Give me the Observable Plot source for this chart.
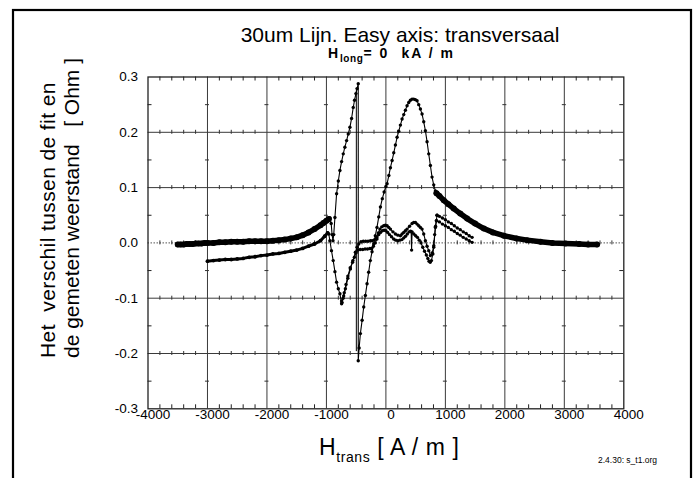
<!DOCTYPE html>
<html><head><meta charset="utf-8">
<script src="https://cdn.jsdelivr.net/npm/d3@7"></script>
<script src="https://cdn.jsdelivr.net/npm/@observablehq/plot@0.6"></script>
<style>body{margin:0;background:#fff}svg{display:block}</style>
</head><body><div id="chart"></div>
<script>
// ---- tick labels ----
const xTicks = [-4000,-3000,-2000,-1000,0,1000,2000,3000,4000];
const xTickLabels = ["-4000","-3000","-2000","-1000","0","1000","2000","3000","4000"];
const yTicks = [-0.3,-0.2,-0.1,0,0.1,0.2,0.3];
const yTickLabels = ["-0.3","-0.2","-0.1","0.0","0.1","0.2","0.3"];

// ---- data ----
// thick band, left (forward sweep)
const bandLeftH = [-3500,-3450,-3400,-3350,-3300,-3250,-3200,-3150,-3100,-3050,-3000,-2900,-2800,-2700,-2600,-2500,-2400,-2300,-2200,-2100,-2000,-1900,-1800,-1700,-1600,-1500,-1400,-1300,-1200,-1100,-1050,-1000,-960];
const bandLeftV = [-0.003,-0.003,-0.003,-0.002,-0.002,-0.002,-0.001,-0.001,-0.001,0.000,0.000,0.000,0.001,0.001,0.002,0.002,0.002,0.003,0.003,0.003,0.003,0.004,0.005,0.006,0.008,0.010,0.014,0.019,0.025,0.032,0.036,0.040,0.043];
// big loop (left peak, jump, right peak)
const loopH = [-960,-940,-920,-905,-890,-877,-857,-829,-800,-773,-745,-717,-690,-661,-633,-605,-577,-549,-527,-504,-485,-465,-465,-450,-429,-400,-373,-345,-317,-290,-262,-233,-205,-178,-150,-120,-92,-60,-30,0,20,50,76,104,132,160,188,216,244,272,300,328,356,384,412,440,468,496,524,552,580,608,636,664,692,720,748,776,804,832,850];
const loopV = [0.043,0.045,0.035,0.015,0.004,0.015,0.046,0.089,0.112,0.131,0.147,0.161,0.173,0.185,0.197,0.209,0.225,0.245,0.258,0.270,0.279,0.288,-0.213,-0.190,-0.164,-0.140,-0.116,-0.095,-0.074,-0.053,-0.032,-0.016,-0.002,0.013,0.028,0.047,0.065,0.080,0.092,0.102,0.107,0.122,0.136,0.149,0.163,0.177,0.191,0.202,0.213,0.224,0.232,0.240,0.248,0.254,0.258,0.260,0.260,0.259,0.257,0.250,0.242,0.233,0.219,0.203,0.183,0.161,0.140,0.119,0.105,0.094,0.090];
// thick band, right
const bandRightH = [850,900,973,1050,1141,1250,1366,1500,1647,1800,1983,2200,2376,2600,2800,3020,3250,3400,3550];
const bandRightV = [0.090,0.085,0.077,0.070,0.062,0.053,0.044,0.035,0.026,0.019,0.013,0.008,0.005,0.002,0.000,-0.001,-0.002,-0.003,-0.003];
// lower line, left
const lowLeftH = [-3000,-2900,-2800,-2700,-2600,-2500,-2400,-2300,-2200,-2100,-2000,-1900,-1800,-1700,-1600,-1500,-1400,-1300,-1200,-1100,-1030,-980];
const lowLeftV = [-0.033,-0.032,-0.031,-0.030,-0.030,-0.029,-0.028,-0.026,-0.025,-0.023,-0.022,-0.020,-0.019,-0.017,-0.015,-0.013,-0.010,-0.006,-0.002,0.004,0.012,0.018];
// dip and upper middle line
const dipH = [-980,-960,-942,-915,-886,-857,-829,-800,-773,-745,-737,-710,-681,-640,-597,-555,-513,-485,-457,-420,-380,-340,-300,-260,-230,-190,-156,-128,-101,-70,-37,-10,20,48,76,118,160,202,244,272,300,328,356,398,440,468,496,524,552,580,608,636,664,692,720,748,776,804,832,860];
const dipV = [0.018,0.016,0.004,-0.014,-0.032,-0.052,-0.071,-0.083,-0.092,-0.110,-0.108,-0.096,-0.083,-0.064,-0.047,-0.032,-0.017,-0.008,-0.002,0.002,0.003,0.003,0.003,0.004,0.004,0.006,0.010,0.018,0.025,0.029,0.031,0.032,0.031,0.028,0.025,0.020,0.016,0.014,0.013,0.016,0.019,0.022,0.025,0.030,0.035,0.037,0.037,0.034,0.031,0.028,0.025,0.016,0.004,-0.006,-0.014,-0.023,-0.018,-0.008,0.028,0.050];
const tailUpH = [860,900,950,1000,1050,1100,1150,1200,1250,1300,1350,1400,1449];
const tailUpV = [0.050,0.048,0.045,0.042,0.038,0.035,0.031,0.027,0.024,0.020,0.017,0.013,0.010];
// lower middle line
const lowMidH = [-745,-720,-700,-670,-640,-600,-560,-530,-500,-470,-430,-390,-350,-310,-270,-240,-210,-180,-150,-120,-90,-60,-30,0,30,60,95,130,165,200,235,270,300,330,360,390,415,425,432,440,470,500,530,560,590,620,650,680,705,725,745,765,790,805,820,835,850];
const lowMidV = [-0.105,-0.100,-0.090,-0.075,-0.060,-0.045,-0.035,-0.026,-0.018,-0.013,-0.012,-0.012,-0.011,-0.011,-0.010,-0.010,-0.006,0.000,0.007,0.015,0.019,0.022,0.023,0.022,0.019,0.015,0.011,0.007,0.005,0.004,0.005,0.006,0.009,0.012,0.016,0.020,0.021,0.020,-0.013,0.020,0.016,0.013,0.010,0.005,0.000,-0.008,-0.015,-0.022,-0.028,-0.033,-0.035,-0.032,-0.020,-0.005,0.015,0.030,0.040];
const tailLowH = [850,900,950,1000,1050,1100,1150,1200,1250,1300,1350,1400,1449];
const tailLowV = [0.040,0.038,0.034,0.031,0.028,0.024,0.021,0.017,0.014,0.010,0.007,0.004,0.001];
// second vertical jump line
const jumpH = [-497,-497];
const jumpV = [0.275,-0.195];

// ---- layout ----
const W = 696, Hgt = 478;
const mL = 147.5, mR = 72.7, mT = 76.5, mB = 69.7;
const xDom = [-4000, 4000], yDom = [-0.3, 0.3];
const pxX = (xDom[1]-xDom[0]) / (W - mL - mR);
const pxY = (yDom[1]-yDom[0]) / (Hgt - mT - mB);

const pts = (hs, vs) => hs.map((h, i) => ({h, v: vs[i]}));
const xGrid = [-3000,-2000,-1000,0,1000,2000,3000];
const yGrid = [-0.2,-0.1,0.1,0.2];
const xMinor = d3.range(-3800, 4000, 200).filter(v => v % 1000 !== 0);
const yMinor = [-0.25,-0.15,-0.05,0.05,0.15,0.25];
const crossX = yTicks.slice(1, -1).flatMap(y => xMinor.map(x => ({x, y})));
const crossY = xGrid.flatMap(x => yMinor.map(y => ({x, y})));

const thin = [pts(loopH, loopV), pts(dipH, dipV), pts(tailUpH, tailUpV), pts(lowMidH, lowMidV), pts(tailLowH, tailLowV)];
const thick = [pts(bandLeftH, bandLeftV), pts(bandRightH, bandRightV)];
const medium = [pts(lowLeftH, lowLeftV)];

const marks = [
  Plot.ruleX(xGrid, {stroke: "#3a3a3a", strokeWidth: 1}),
  Plot.ruleY(yGrid, {stroke: "#3a3a3a", strokeWidth: 1}),
  Plot.ruleY([0], {stroke: "#555", strokeWidth: 1, strokeDasharray: "1.5,1.5"}),
  Plot.ruleX(xMinor, {x: d => d, y1: yDom[0], y2: yDom[0] + 4*pxY, stroke: "#222"}),
  Plot.ruleX(xMinor, {x: d => d, y1: yDom[1] - 4*pxY, y2: yDom[1], stroke: "#222"}),
  Plot.ruleY(yMinor, {y: d => d, x1: xDom[0], x2: xDom[0] + 4*pxX, stroke: "#222"}),
  Plot.ruleY(yMinor, {y: d => d, x1: xDom[1] - 4*pxX, x2: xDom[1], stroke: "#222"}),
  Plot.ruleX(crossX, {x: "x", y1: d => d.y - 2*pxY, y2: d => d.y + 2*pxY, stroke: "#333"}),
  Plot.ruleY(crossY, {y: "y", x1: d => d.x - 2*pxX, x2: d => d.x + 2*pxX, stroke: "#333"}),
  Plot.frame({stroke: "#222", strokeWidth: 1.3}),
  Plot.axisX({ticks: xTicks, tickSize: 0, tickPadding: 1, dx: 5, label: null,
    tickFormat: d => xTickLabels[xTicks.indexOf(d)]}),
  Plot.axisY({ticks: yTicks, tickSize: 0, tickPadding: 10, label: null,
    tickFormat: d => yTickLabels[yTicks.indexOf(d)]}),
];
for (const s of thick) {
  marks.push(Plot.line(s, {x: "h", y: "v", stroke: "black", strokeWidth: 5.5, curve: "linear"}));
  marks.push(Plot.dot(s, {x: "h", y: "v", r: 3, fill: "black"}));
}
for (const s of medium) {
  marks.push(Plot.line(s, {x: "h", y: "v", stroke: "black", strokeWidth: 3}));
  marks.push(Plot.dot(s, {x: "h", y: "v", r: 1.9, fill: "black"}));
}
for (const s of thin) {
  marks.push(Plot.line(s, {x: "h", y: "v", stroke: "black", strokeWidth: 1.1}));
  marks.push(Plot.dot(s, {x: "h", y: "v", r: 1.7, fill: "black"}));
}
marks.push(Plot.line(pts(jumpH, jumpV), {x: "h", y: "v", stroke: "black", strokeWidth: 1}));

const svg = Plot.plot({
  width: W, height: Hgt,
  marginLeft: mL, marginRight: mR, marginTop: mT, marginBottom: mB,
  x: {domain: xDom}, y: {domain: yDom},
  style: {fontFamily: "'Liberation Sans', Arial, Helvetica, sans-serif", fontSize: "13.5px", color: "black", background: "white", overflow: "visible"},
  marks
});
document.getElementById("chart").appendChild(svg);

const s = d3.select(svg);
const font = "'Liberation Sans', Arial, Helvetica, sans-serif";
// outer border
s.append("rect").attr("x", 13).attr("y", 10).attr("width", 678).attr("height", 480)
  .attr("fill", "none").attr("stroke", "black").attr("stroke-width", 2.2);
// title
s.append("text").attr("x", 400).attr("y", 41.5).attr("text-anchor", "middle")
  .style("font-family", font).style("font-size", "21px").text("30um Lijn. Easy axis: transversaal");
// subtitle
const sub = s.append("text").attr("x", 328).attr("y", 57.5).attr("text-anchor", "start")
  .style("font-family", font).style("font-size", "14px").style("font-weight", "bold")
  .style("white-space", "pre").style("letter-spacing", "1.8px").style("word-spacing", "0.5px");
sub.append("tspan").text("H");
sub.append("tspan").attr("dy", 4).style("font-size", "10px").style("letter-spacing", "0.6px").text("long");
sub.append("tspan").attr("dy", -4).text("= 0  kA / m");
// y label
const yl = s.append("g").attr("transform", "translate(55,358) rotate(-90)")
  .attr("text-anchor", "start")
  .style("font-family", font).style("font-size", "21px");
yl.append("text").attr("x", 0).attr("y", 0).attr("text-anchor", "start").style("white-space", "pre")
  .style("letter-spacing", "0.4px").text("Het  verschil tussen de fit en");
yl.append("text").attr("x", 0).attr("y", 24).attr("text-anchor", "start").style("white-space", "pre").text("de gemeten weerstand   [ Ohm ]");
// x label
const xl = s.append("text").attr("x", 319).attr("y", 455).attr("text-anchor", "start")
  .style("font-family", font).style("font-size", "23px").style("white-space", "pre").style("letter-spacing", "0.6px");
xl.append("tspan").text("H");
xl.append("tspan").attr("dy", 7).style("font-size", "14px").text("trans");
xl.append("tspan").attr("dy", -7).text(" [ A / m ]");
// caption
s.append("text").attr("x", 598).attr("y", 463).attr("text-anchor", "start")
  .style("font-family", font).style("font-size", "8.5px").text("2.4.30: s_t1.org");
</script></body></html>
